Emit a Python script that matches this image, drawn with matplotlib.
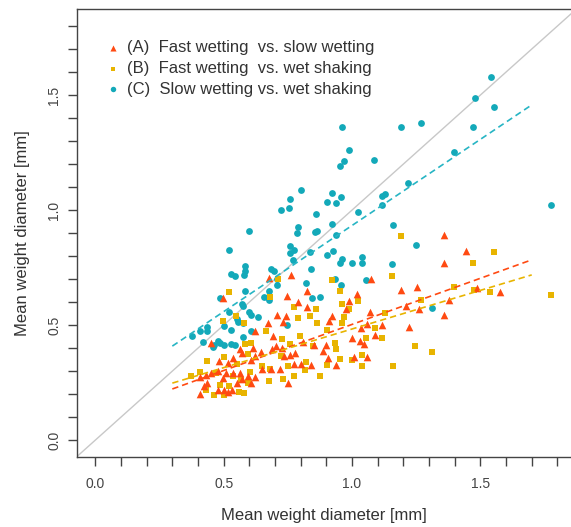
import numpy as np
import matplotlib.pyplot as plt
from matplotlib.ticker import MultipleLocator

plt.rcParams['font.family'] = ['Liberation Sans', 'DejaVu Sans']

# (C) Slow wetting vs. wet shaking
c_x = [1.540, 1.479, 1.555, 1.470, 1.399, 1.270, 1.190, 1.218, 1.087, 0.960,
       0.987, 0.967, 0.952, 1.118, 1.128, 1.116, 1.023, 1.160, 1.248, 1.156,
       1.311, 1.777, 0.923, 0.904, 0.936, 0.956, 0.801, 0.759, 0.755, 0.725,
       0.860, 0.922, 0.857, 0.865, 0.939, 0.789, 0.784, 0.600, 0.522, 0.760,
       0.774, 0.757, 0.772, 0.835, 0.901, 0.925, 0.960, 0.952, 1.001, 1.040,
       1.038, 1.055, 0.956, 0.933, 0.840, 0.820, 0.845, 0.877, 0.684, 0.696,
       0.706, 0.709, 0.678, 0.678, 0.658, 0.584, 0.582, 0.580, 0.530, 0.543,
       0.582, 0.573, 0.576, 0.487, 0.519, 0.597, 0.607, 0.635, 0.550, 0.557,
       0.577, 0.502, 0.529, 0.607, 0.577, 0.376, 0.407, 0.434, 0.437, 0.418,
       0.479, 0.487, 0.461, 0.458, 0.501, 0.528, 0.543, 0.746]
c_y = [1.577, 1.489, 1.448, 1.361, 1.253, 1.378, 1.362, 1.117, 1.219, 1.361,
       1.260, 1.212, 1.191, 1.023, 1.069, 1.063, 0.991, 0.937, 0.850, 0.765,
       0.575, 1.020, 1.076, 1.036, 1.032, 1.057, 1.089, 1.050, 1.010, 1.000,
       0.985, 0.940, 0.905, 0.911, 0.892, 0.927, 0.902, 0.909, 0.828, 0.842,
       0.828, 0.815, 0.781, 0.818, 0.806, 0.820, 0.788, 0.771, 0.769, 0.796,
       0.769, 0.696, 0.673, 0.702, 0.745, 0.683, 0.618, 0.620, 0.745, 0.733,
       0.701, 0.674, 0.650, 0.609, 0.623, 0.755, 0.733, 0.718, 0.720, 0.715,
       0.647, 0.591, 0.581, 0.618, 0.555, 0.555, 0.545, 0.534, 0.526, 0.514,
       0.508, 0.496, 0.477, 0.474, 0.448, 0.453, 0.474, 0.491, 0.474, 0.428,
       0.431, 0.423, 0.412, 0.404, 0.413, 0.419, 0.413, 0.501]

# (A) Fast wetting vs. slow wetting
a_x = [1.359, 1.444, 1.359, 1.487, 1.577, 1.376, 1.359, 1.252, 1.190, 1.211,
       1.260, 1.220, 1.074, 1.071, 1.115, 1.058, 1.035, 1.020, 0.987, 0.976,
       0.923, 0.909, 0.999, 1.033, 1.047, 1.088, 1.057, 1.007, 0.938, 0.905,
       0.888, 0.898, 0.851, 0.810, 0.841, 0.800, 0.824, 0.789, 0.824, 0.763,
       0.675, 0.745, 0.709, 0.743, 0.733, 0.674, 0.691, 0.621, 0.688, 0.702,
       0.728, 0.735, 0.760, 0.777, 0.774, 0.721, 0.685, 0.650, 0.749, 0.645,
       0.614, 0.607, 0.572, 0.565, 0.536, 0.518, 0.496, 0.451, 0.482, 0.477,
       0.451, 0.430, 0.409, 0.434, 0.423, 0.409, 0.477, 0.501, 0.515, 0.533,
       0.496, 0.508, 0.536, 0.565, 0.550, 0.593, 0.607, 0.621, 0.572, 0.621]
a_y = [0.891, 0.820, 0.771, 0.661, 0.645, 0.610, 0.543, 0.667, 0.654, 0.584,
       0.569, 0.493, 0.701, 0.555, 0.501, 0.504, 0.489, 0.635, 0.606, 0.569,
       0.540, 0.518, 0.445, 0.431, 0.416, 0.455, 0.361, 0.362, 0.328, 0.355,
       0.387, 0.412, 0.412, 0.426, 0.328, 0.333, 0.650, 0.601, 0.580, 0.718,
       0.704, 0.625, 0.543, 0.540, 0.515, 0.511, 0.453, 0.476, 0.394, 0.409,
       0.401, 0.365, 0.372, 0.380, 0.331, 0.307, 0.307, 0.307, 0.248, 0.382,
       0.401, 0.347, 0.380, 0.394, 0.358, 0.336, 0.618, 0.423, 0.343, 0.299,
       0.292, 0.285, 0.274, 0.248, 0.236, 0.200, 0.219, 0.219, 0.210, 0.219,
       0.270, 0.292, 0.292, 0.292, 0.248, 0.277, 0.248, 0.274, 0.266, 0.365]

# (B) Fast wetting vs. wet shaking
b_x = [1.189, 1.555, 1.470, 1.399, 1.538, 1.477, 1.777, 1.267, 1.155, 1.129,
       1.245, 1.312, 1.160, 1.118, 1.089, 1.054, 1.040, 1.001, 1.037, 1.023,
       0.987, 0.962, 0.969, 0.960, 0.952, 0.922, 0.902, 0.933, 0.938, 0.955,
       0.902, 0.877, 0.858, 0.838, 0.862, 0.848, 0.796, 0.789, 0.774, 0.820,
       0.817, 0.774, 0.760, 0.728, 0.749, 0.732, 0.711, 0.682, 0.664, 0.681,
       0.678, 0.723, 0.607, 0.593, 0.582, 0.580, 0.548, 0.522, 0.496, 0.501,
       0.472, 0.437, 0.406, 0.373, 0.430, 0.462, 0.501, 0.522, 0.560, 0.579,
       0.567, 0.604, 0.593, 0.550, 0.536, 0.487, 0.650]
b_y = [0.888, 0.818, 0.771, 0.664, 0.642, 0.654, 0.632, 0.610, 0.715, 0.552,
       0.409, 0.384, 0.324, 0.442, 0.486, 0.445, 0.372, 0.350, 0.324, 0.603,
       0.569, 0.591, 0.536, 0.507, 0.648, 0.698, 0.479, 0.423, 0.394, 0.353,
       0.328, 0.280, 0.569, 0.540, 0.508, 0.409, 0.453, 0.533, 0.577, 0.339,
       0.304, 0.280, 0.420, 0.441, 0.321, 0.266, 0.701, 0.620, 0.474, 0.307,
       0.255, 0.365, 0.423, 0.375, 0.416, 0.511, 0.540, 0.645, 0.518, 0.361,
       0.292, 0.343, 0.295, 0.280, 0.219, 0.197, 0.197, 0.236, 0.207, 0.204,
       0.263, 0.295, 0.248, 0.333, 0.280, 0.241, 0.321]

# fitted lines: slope, intercept, drawn for x in 0.3..1.7
fit_range = [0.3, 1.7]
fit_a = [0.401, 0.102]
fit_b = [0.336, 0.147]
fit_c = [0.749, 0.184]

red = '#ff4a12'
yellow = '#e8b400'
cyan = '#13a9b9'

fig = plt.figure(figsize=(5.71, 5.27), dpi=100)
ax = fig.add_axes([0.135, 0.133, 0.865, 0.849])

xlim = (-0.071, 1.853)
ylim = (-0.073, 1.872)
ax.plot([-0.1, 2.0], [-0.1, 2.0], color='#c8c8c8', lw=1, zorder=1)

ax.scatter(c_x, c_y, marker='o', s=24, color=cyan, lw=0, zorder=3)
ax.scatter(b_x, b_y, marker='s', s=20, color=yellow, lw=0, zorder=3)
ax.scatter(a_x, a_y, marker='^', s=30, color=red, lw=0, zorder=3)

xf = np.array(fit_range)
for (m, b), col in [(fit_c, '#27b5c4'), (fit_a, red), (fit_b, yellow)]:
    ax.plot(xf, m * xf + b, color=col, lw=1.2, ls=(0, (3.8, 2.4)), zorder=4)

ax.set_xlim(xlim)
ax.set_ylim(ylim)
ax.xaxis.set_major_locator(MultipleLocator(0.5))
ax.xaxis.set_minor_locator(MultipleLocator(0.1))
ax.yaxis.set_major_locator(MultipleLocator(0.5))
ax.yaxis.set_minor_locator(MultipleLocator(0.1))
ax.xaxis.set_major_formatter(plt.FormatStrFormatter('%.1f'))
ax.yaxis.set_major_formatter(plt.FormatStrFormatter('%.1f'))
ax.tick_params(which='both', direction='out', length=6.5, width=1,
               color='#444444', labelcolor='#444444', labelsize=10)
ax.tick_params(axis='x', pad=8)
ax.tick_params(axis='y', pad=5)
for lab in ax.get_yticklabels():
    lab.set_rotation(90)
    lab.set_va('center')
for s in ['left', 'bottom', 'top']:
    ax.spines[s].set_color('#444444')
    ax.spines[s].set_linewidth(1)
ax.spines['right'].set_visible(False)

ax.set_xlabel('Mean weight diameter [mm]', fontsize=12, color='#333333', labelpad=12)
ax.set_ylabel('Mean weight diameter [mm]', fontsize=12, color='#333333', labelpad=12)

ax.scatter([], [], marker='^', s=30, color=red, lw=0, label='(A)  Fast wetting  vs. slow wetting')
ax.scatter([], [], marker='s', s=20, color=yellow, lw=0, label='(B)  Fast wetting  vs. wet shaking')
ax.scatter([], [], marker='o', s=24, color=cyan, lw=0, label='(C)  Slow wetting vs. wet shaking')
leg = ax.legend(loc='upper left', bbox_to_anchor=(0.06, 0.931), frameon=False,
                fontsize=12, handletextpad=0.4, labelspacing=0.34,
                handlelength=0.8, borderaxespad=0, borderpad=0, markerscale=0.8)
for t in leg.get_texts():
    t.set_color('#333333')

fig.savefig('out.png', dpi=100)
